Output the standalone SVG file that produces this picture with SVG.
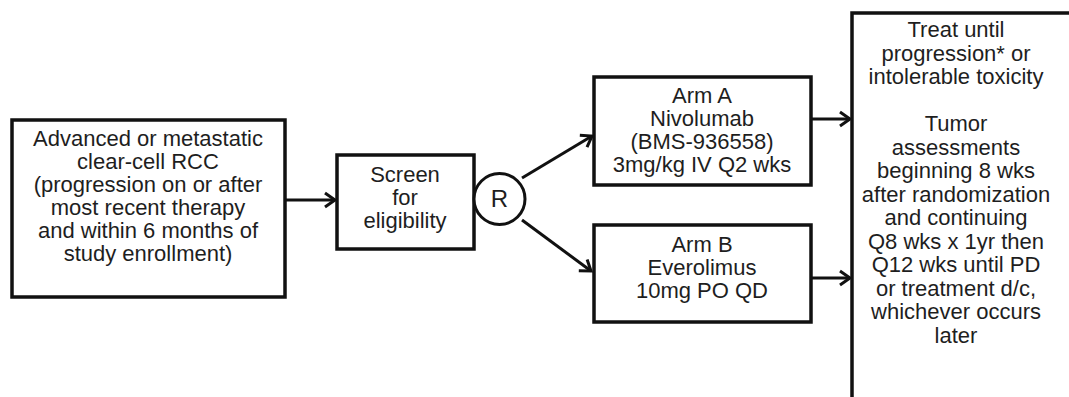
<svg xmlns="http://www.w3.org/2000/svg" width="1069" height="397" viewBox="0 0 1069 397">
  <style>
    .box { fill: #ffffff; stroke: #111111; stroke-width: 3.5; }
    .txt { font-family: "Liberation Sans", Arial, sans-serif; font-size: 22px; fill: #1e1e1e; text-anchor: middle; }
    .conn { stroke: #111111; stroke-width: 3; fill: none; marker-end: url(#arrow); }
  </style>
  <defs>
    <marker id="arrow" markerUnits="userSpaceOnUse" markerWidth="16" markerHeight="18" viewBox="0 0 16 18" refX="13" refY="9" orient="auto">
      <path d="M3,2 L13,9 L3,16" fill="none" stroke="#111111" stroke-width="3" stroke-linejoin="miter"/>
    </marker>
  </defs>
  <rect width="1069" height="397" fill="#ffffff"/>

  <g id="connectors">
    <line class="conn" x1="285" y1="200" x2="335" y2="200"/>
    <line class="conn" x1="522" y1="178" x2="592" y2="136"/>
    <line class="conn" x1="522" y1="220" x2="591" y2="271"/>
    <line class="conn" x1="811" y1="119" x2="850" y2="119"/>
    <line class="conn" x1="811" y1="278" x2="850" y2="278"/>
  </g>

  <g id="node-population">
    <rect class="box" x="12" y="120" width="273" height="177"/>
    <text class="txt" x="148" y="146">Advanced or metastatic</text>
    <text class="txt" x="148" y="169">clear-cell RCC</text>
    <text class="txt" x="148" y="192">(progression on or after</text>
    <text class="txt" x="148" y="215">most recent therapy</text>
    <text class="txt" x="148" y="238">and within 6 months of</text>
    <text class="txt" x="148" y="261">study enrollment)</text>
  </g>

  <g id="node-screen">
    <rect class="box" x="337" y="155" width="137" height="94"/>
    <text class="txt" x="405" y="182">Screen</text>
    <text class="txt" x="405" y="205">for</text>
    <text class="txt" x="405" y="228">eligibility</text>
  </g>

  <g id="node-randomize">
    <circle cx="499.5" cy="199" r="25.5" fill="#ffffff" stroke="#111111" stroke-width="3"/>
    <text class="txt" x="499.5" y="207" style="font-size:24px">R</text>
  </g>

  <g id="node-arm-a">
    <rect class="box" x="594" y="77" width="217" height="108"/>
    <text class="txt" x="702" y="103">Arm A</text>
    <text class="txt" x="702" y="126">Nivolumab</text>
    <text class="txt" x="702" y="149">(BMS-936558)</text>
    <text class="txt" x="702" y="172">3mg/kg IV Q2 wks</text>
  </g>

  <g id="node-arm-b">
    <rect class="box" x="594" y="225" width="217" height="97"/>
    <text class="txt" x="702" y="252">Arm B</text>
    <text class="txt" x="702" y="275">Everolimus</text>
    <text class="txt" x="702" y="298">10mg PO QD</text>
  </g>

  <g id="node-treatment">
    <rect class="box" x="852" y="13" width="260" height="420"/>
    <text class="txt" x="956" y="37">Treat until</text>
    <text class="txt" x="956" y="60.5">progression* or</text>
    <text class="txt" x="956" y="84">intolerable toxicity</text>
    <text class="txt" x="956" y="131">Tumor</text>
    <text class="txt" x="956" y="154.5">assessments</text>
    <text class="txt" x="956" y="178">beginning 8 wks</text>
    <text class="txt" x="956" y="201.5">after randomization</text>
    <text class="txt" x="956" y="225">and continuing</text>
    <text class="txt" x="956" y="248.5">Q8 wks x 1yr then</text>
    <text class="txt" x="956" y="272">Q12 wks until PD</text>
    <text class="txt" x="956" y="295.5">or treatment d/c,</text>
    <text class="txt" x="956" y="319">whichever occurs</text>
    <text class="txt" x="956" y="342.5">later</text>
  </g>
</svg>
